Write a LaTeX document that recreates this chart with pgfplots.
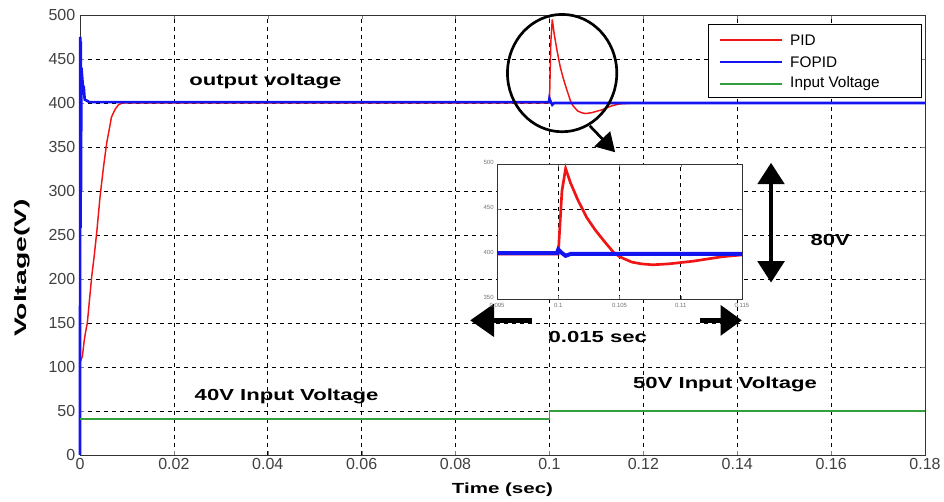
\documentclass[border=0pt]{standalone}
\usepackage{fontspec}
\setmainfont{Liberation Sans}
\usepackage{graphicx}
\usepackage{pgfplots}
\pgfplotsset{compat=1.18}
\usepackage{pgfplotstable}
\usetikzlibrary{arrows.meta}
\definecolor{pidred}{RGB}{240,20,20}
\definecolor{fopidblue}{RGB}{20,20,240}
\definecolor{ingreen}{RGB}{50,160,60}
% wide bold text, as in the figure
\newcommand{\wb}[2][1.38]{\scalebox{#1}[1]{\bfseries #2}}

% PID response
\pgfplotstableread{
t v
0 105
0.0005 112
0.0009 130
0.0012 140
0.00156 150
0.002 175
0.0025 203
0.003 225
0.00355 252
0.00426 293
0.005 327
0.0057 355
0.0063 372
0.0067 384
0.0075 393
0.0082 398
0.009 400
0.1 400
0.1003 470
0.1006 495
0.101 479
0.1016 460
0.1023 441
0.103 427
0.1037 415
0.1045 402
0.105 397
0.106 391
0.1068 389
0.1077 388
0.109 389
0.111 392
0.1134 397
0.115 399
0.118 400
0.18 400
}\pidtab

% FOPID response
\pgfplotstableread{
t v
0 0
0.00005 475
0.0001 258
0.00015 470
0.0002 300
0.0003 440
0.0006 420
0.0008 418
0.001 404
0.002 401
0.0999 401
0.1 405
0.1003 401
0.1006 398
0.101 400
0.18 400
}\fopidtab

% input voltage
\pgfplotstableread{
t v
0 41
0.1 41
0.1 50
0.18 50
}\intab

\begin{document}
\begin{tikzpicture}
\useasboundingbox (-60pt,-35.25pt) rectangle (648pt,341.25pt);
\begin{axis}[
  scale only axis,
  width=633.75pt, height=330pt,
  xmin=0, xmax=0.18, ymin=0, ymax=500,
  xtick={0,0.02,0.04,0.06,0.08,0.1,0.12,0.14,0.16,0.18},
  xticklabels={0,0.02,0.04,0.06,0.08,0.1,0.12,0.14,0.16,0.18},
  ytick={0,50,100,150,200,250,300,350,400,450,500},
  /pgf/number format/assume math mode=true,
  tick label style={font=\fontsize{12}{14}\selectfont, text=black!75},
  xticklabel style={yshift=1pt},
  xlabel={\wb[1.4]{Time (sec)}},
  ylabel={\wb[1.7]{Voltage(V)}},
  xlabel style={font=\fontsize{11}{13}\selectfont,
    at={(axis description cs:0.5,-0.0795)}, anchor=center},
  ylabel style={font=\fontsize{12.5}{14}\selectfont,
    at={(axis description cs:-0.0686,0.425)}, anchor=center},
  tick align=inside, major tick length=3pt,
  grid=major,
  grid style={black, line width=0.5pt, dash pattern=on 3pt off 3pt},
  axis line style={black!80},
  clip=false,
]
\addplot[color=pidred, line width=1.1pt] table[x=t,y=v] {\pidtab};
\addplot[color=fopidblue, line width=2pt] table[x=t,y=v] {\fopidtab};
\addplot[color=ingreen, line width=1.1pt] table[x=t,y=v] {\intab};

% legend box
\draw[black, fill=white, line width=0.6pt]
  (axis description cs:0.7432,0.9795) rectangle (axis description cs:0.9953,0.8136);
\draw[pidred, line width=0.8pt] (axis description cs:0.7574,0.9432) -- (axis description cs:0.8308,0.9432);
\draw[fopidblue, line width=0.8pt] (axis description cs:0.7574,0.8932) -- (axis description cs:0.8308,0.8932);
\draw[ingreen, line width=0.8pt] (axis description cs:0.7574,0.8432) -- (axis description cs:0.8308,0.8432);
\node[anchor=west, inner sep=0pt, font=\fontsize{11.5}{13}\selectfont] at (axis description cs:0.8402,0.9432) {PID};
\node[anchor=west, inner sep=0pt, font=\fontsize{11.5}{13}\selectfont] at (axis description cs:0.8402,0.8932) {FOPID};
\node[anchor=west, inner sep=0pt, font=\fontsize{11.5}{13}\selectfont] at (axis description cs:0.8402,0.8432) {Input Voltage};

\node[font=\fontsize{12}{14}\selectfont] at (axis cs:0.0395,424) {\wb{output voltage}};
\node[font=\fontsize{12}{14}\selectfont] at (axis cs:0.0440,67) {\wb{40V Input Voltage}};
\node[font=\fontsize{12}{14}\selectfont] at (axis cs:0.1374,80) {\wb{50V Input Voltage}};
\node[font=\fontsize{12}{14}\selectfont] at (axis cs:0.1598,244) {\wb{80V}};
\node[font=\fontsize{12}{14}\selectfont] at (axis cs:0.1103,134) {\wb{0.015 sec}};

\draw[line width=2pt] (axis cs:0.1027,434) ellipse [x radius=41pt, y radius=44pt];
\draw[line width=2pt, -{Triangle[length=14pt,width=16pt]}] (axis cs:0.1086,374) -- (axis cs:0.1140,344);
\draw[line width=4pt, -{Triangle[length=18pt,width=24pt]}] (axis cs:0.0963,153) -- (axis cs:0.0831,153);
\draw[line width=4pt, -{Triangle[length=16pt,width=22pt]}] (axis cs:0.1321,153) -- (axis cs:0.1410,153);
\draw[line width=2.5pt, {Triangle[length=16pt,width=20pt]}-{Triangle[length=16pt,width=20pt]}]
  (axis cs:0.1472,332) -- (axis cs:0.1472,196);
\end{axis}

% zoomed inset
\begin{axis}[
  at={(312.75pt,117pt)}, anchor=south west,
  scale only axis,
  width=183.75pt, height=101.25pt,
  xmin=0.095, xmax=0.115, ymin=350, ymax=500,
  xtick={0.095,0.1,0.105,0.11,0.115},
  xticklabels={0.095,0.1,0.105,0.11,0.115},
  ytick={350,400,450,500},
  /pgf/number format/assume math mode=true,
  tick label style={font=\fontsize{4.5}{5}\selectfont, text=black!55},
  xticklabel style={yshift=0pt},
  yticklabel style={xshift=1pt, yshift=1.5pt},
  tick align=inside, major tick length=2pt,
  grid=major,
  grid style={black, line width=0.5pt, dash pattern=on 3pt off 3pt},
  axis background/.style={fill=white},
  axis line style={black!80},
]
\addplot[color=pidred, line width=2pt] table[x=t,y=v] {\pidtab};
\addplot[color=fopidblue, line width=3pt] table[x=t,y=v] {\fopidtab};
\end{axis}
\end{tikzpicture}
\end{document}
